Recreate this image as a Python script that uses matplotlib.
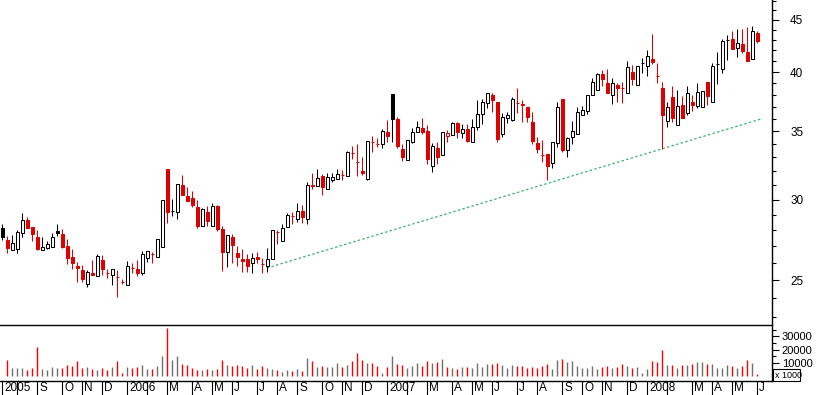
import numpy as np
import pandas as pd
import matplotlib
matplotlib.use('Agg')
import matplotlib.pyplot as plt
from matplotlib.ticker import FixedLocator, NullFormatter, FixedFormatter
from matplotlib.patches import Rectangle

plt.rcParams['font.family'] = ['Liberation Sans', 'DejaVu Sans']

# weekly bars, first one = week ending 2005-07-15
first_week = '2005-07-15'

opens = [28.14, 27.38, 26.77, 26.83, 27.82, 28.65, 28.20, 27.56, 26.77, 26.89,
         26.95, 27.95, 27.75, 27.01, 26.35, 25.82, 25.59, 24.79, 25.42, 25.24,
         26.17, 25.44, 25.30, 25.21, 24.92, 24.73, 25.72, 25.65, 25.42, 26.29,
         26.55, 26.35, 26.95, 32.14, 29.25, 29.17, 30.99, 30.24, 30.10, 29.50,
         28.27, 29.17, 28.27, 29.56, 28.07, 26.65, 27.56, 26.59, 26.23, 26.23,
         26.00, 26.35, 25.96, 25.82, 26.23, 27.90, 27.32, 28.20, 28.93, 28.71,
         29.23, 28.71, 31.00, 30.92, 31.63, 30.72, 31.35, 31.42, 31.73, 31.63,
         33.34, 32.67, 32.00, 31.42, 34.18, 34.03, 34.01, 34.94, 38.07, 35.98,
         33.63, 32.80, 34.16, 34.94, 35.26, 35.02, 32.36, 33.70, 33.17, 34.63,
         34.71, 35.66, 34.86, 35.18, 34.16, 35.34, 36.39, 37.31, 37.99, 37.39,
         34.79, 36.06, 35.90, 37.33, 37.22, 36.97, 35.74, 34.08, 33.19, 33.25,
         32.58, 34.08, 37.65, 33.55, 34.55, 34.79, 36.31, 36.64, 37.99, 38.42,
         39.83, 39.03, 37.99, 38.86, 38.62, 38.16, 40.01, 38.86, 40.85, 40.56,
         41.20, 39.68, 38.60, 35.82, 37.82, 35.50, 37.14, 36.47, 37.39, 37.06,
         36.97, 39.12, 37.39, 40.76, 40.28, 43.03, 43.11, 42.24, 42.62, 41.86,
         41.20, 43.70]
highs = [28.39, 27.63, 27.69, 28.01, 29.10, 28.84, 28.22, 28.01, 27.56, 27.32,
         27.82, 28.39, 28.07, 27.44, 26.83, 26.06, 25.88, 25.59, 26.17, 26.53,
         26.47, 25.65, 25.67, 25.59, 25.07, 26.11, 26.00, 26.17, 26.71, 26.73,
         26.65, 27.46, 30.00, 32.16, 30.03, 31.08, 31.71, 30.86, 30.58, 29.97,
         29.43, 29.56, 29.77, 29.63, 28.27, 27.71, 27.75, 27.01, 26.83, 26.53,
         26.59, 26.65, 26.29, 26.89, 28.03, 28.01, 28.39, 29.10, 29.17, 29.77,
         29.63, 31.20, 31.85, 32.14, 31.78, 31.85, 31.85, 32.14, 32.07, 33.47,
         33.86, 34.01, 33.02, 34.26, 34.63, 34.47, 35.18, 35.90, 38.09, 36.14,
         34.01, 34.34, 35.26, 35.82, 36.06, 35.50, 34.08, 34.16, 34.96, 35.10,
         35.74, 35.74, 35.58, 35.58, 35.98, 37.56, 37.65, 38.18, 38.16, 37.41,
         36.47, 36.56, 37.82, 38.60, 37.56, 36.99, 36.56, 34.55, 34.32, 33.27,
         34.18, 37.39, 37.67, 34.55, 35.82, 36.97, 37.06, 38.01, 39.48, 39.92,
         40.19, 40.28, 39.48, 39.03, 39.12, 41.01, 40.65, 40.58, 41.30, 42.05,
         43.60, 40.83, 39.12, 37.39, 38.77, 38.42, 37.90, 38.77, 37.99, 39.03,
         38.35, 39.14, 40.83, 41.86, 43.11, 43.50, 43.89, 44.09, 44.09, 44.29,
         44.39, 43.89]
lows = [27.38, 26.59, 26.75, 26.59, 27.56, 28.12, 27.32, 26.77, 26.75, 26.83,
        26.93, 27.63, 26.89, 25.94, 25.65, 24.90, 24.90, 24.62, 25.28, 25.22,
        25.30, 25.13, 24.73, 24.05, 24.79, 24.71, 25.42, 25.24, 25.30, 26.06,
        26.00, 26.33, 26.93, 28.46, 28.91, 28.71, 30.29, 29.88, 29.50, 28.14,
        28.25, 28.27, 28.25, 27.95, 25.53, 25.76, 26.00, 25.82, 25.48, 25.48,
        25.42, 26.00, 25.42, 25.48, 26.21, 27.14, 27.30, 28.18, 28.39, 28.52,
        28.46, 28.39, 30.72, 30.90, 30.31, 30.70, 31.20, 31.40, 31.35, 31.61,
        32.87, 31.63, 31.71, 31.35, 33.40, 33.78, 33.70, 34.16, 34.16, 33.70,
        32.73, 32.78, 34.08, 34.92, 34.79, 32.51, 31.92, 32.51, 33.15, 34.16,
        34.69, 34.47, 34.47, 34.16, 34.14, 35.10, 35.58, 36.89, 36.56, 34.16,
        34.55, 35.66, 35.82, 36.47, 35.74, 35.74, 34.01, 33.32, 32.65, 31.35,
        32.21, 33.78, 33.40, 33.02, 34.01, 34.77, 36.29, 36.39, 37.97, 38.40,
        38.77, 38.14, 37.22, 37.39, 37.31, 38.14, 38.86, 38.84, 39.92, 39.66,
        40.74, 39.03, 33.63, 35.34, 35.74, 35.48, 36.04, 36.31, 36.64, 36.89,
        36.95, 37.14, 37.37, 38.94, 39.92, 41.11, 42.12, 41.39, 41.77, 40.99,
        41.18, 42.72]
closes = [27.56, 26.89, 27.20, 27.88, 28.65, 28.14, 27.75, 26.83, 26.95, 27.14,
          27.56, 27.82, 26.95, 26.29, 26.00, 25.72, 25.07, 25.48, 25.30, 26.41,
          25.65, 25.42, 25.65, 25.19, 24.90, 25.82, 25.70, 25.42, 26.53, 26.71,
          26.53, 27.44, 29.97, 29.17, 29.23, 31.06, 30.31, 29.90, 29.63, 28.27,
          29.37, 28.59, 29.56, 28.07, 26.65, 27.69, 27.07, 26.35, 26.11, 25.82,
          26.29, 26.23, 25.94, 26.23, 28.01, 27.88, 28.14, 28.97, 28.91, 29.23,
          28.84, 30.99, 30.96, 31.49, 30.86, 31.56, 31.60, 31.78, 31.71, 33.40,
          33.32, 32.65, 31.85, 34.24, 34.16, 34.01, 35.02, 34.63, 35.98, 33.86,
          33.02, 34.32, 34.94, 35.34, 34.94, 32.87, 33.86, 33.02, 34.94, 34.86,
          35.66, 34.94, 35.18, 34.24, 35.34, 36.39, 37.39, 38.16, 37.56, 34.39,
          36.14, 36.31, 37.65, 37.31, 37.14, 36.14, 34.24, 33.63, 33.17, 32.36,
          34.16, 36.97, 33.55, 34.47, 35.02, 36.56, 36.72, 37.99, 39.12, 39.83,
          39.39, 38.16, 39.03, 38.60, 38.58, 40.46, 39.39, 40.56, 40.83, 41.49,
          40.92, 39.66, 36.31, 36.97, 36.06, 37.06, 36.06, 38.16, 37.14, 38.25,
          38.33, 37.90, 40.56, 40.74, 42.91, 43.01, 42.14, 42.72, 41.96, 41.01,
          43.89, 42.91]
# volume, in units of 1000 (axis is "x 1000")
volume = [0, 12500, 6500, 6500, 6500, 5000, 6500, 22000, 5500, 5000,
          7000, 6500, 6000, 8500, 8000, 11700, 6500, 7000, 5700, 5000,
          6500, 5000, 7000, 11700, 2700, 7000, 6500, 7000, 8700, 5700,
          5700, 8000, 15500, 36500, 12500, 15500, 9500, 8700, 6500, 5000,
          5000, 5700, 5000, 5700, 12500, 8700, 8000, 8700, 8000, 6500,
          8700, 5700, 8000, 6500, 5700, 5000, 3000, 5000, 4200, 5700,
          4200, 14000, 11700, 7200, 8000, 7200, 7200, 10200, 7200, 8700,
          11700, 17700, 12500, 10200, 10200, 8000, 2700, 7200, 15500, 9500,
          8700, 6500, 8000, 10200, 8000, 11700, 10200, 11000, 13200, 7200,
          6500, 5700, 7200, 7200, 6500, 10200, 7200, 9500, 9500, 10200,
          8700, 6500, 8700, 8000, 8000, 6500, 7200, 6500, 8000, 9500,
          5700, 12500, 13200, 11000, 11700, 8000, 6500, 6500, 8000, 5700,
          7200, 8000, 6500, 7200, 9500, 8000, 6500, 7200, 2700, 5700,
          11700, 11000, 20000, 8700, 8700, 6500, 8700, 8700, 9500, 11000,
          11000, 9500, 9500, 6500, 6500, 8700, 8000, 6500, 8000, 12500,
          10200, 1500]

# support trendline (bar index, price)
trend_x = [52.9, 151.9]
trend_y = [25.7, 36.0]

RED = '#dd0000'
VOL_RED = '#ff0000'
VOL_GRAY = '#707070'

o = np.array(opens); h = np.array(highs); l = np.array(lows); c = np.array(closes)
n = len(c)
x = np.arange(n)
prev = np.concatenate([[c[0]], c[:-1]])
down = c < prev
col = np.where(down, RED, 'black')
face = np.where(c < o, col, 'white')

fig = plt.figure(figsize=(8.17, 3.95), dpi=100)
fig.set_facecolor('white')
W, H = 817, 395
ax1 = fig.add_axes([0, (H - 324) / H, 772 / W, 324 / H])
ax2 = fig.add_axes([0, (H - 381) / H, 772 / W, 56 / H])

# price panel
ax1.vlines(x, l, h, colors=col, linewidth=0.75, zorder=2)
bottom = np.minimum(o, c)
height = np.maximum(np.abs(c - o), 0.015)
ax1.bar(x, height, width=0.7, bottom=bottom, color=face, edgecolor=col,
        linewidth=0.75, zorder=3)
ax1.plot(trend_x, trend_y, color='#3cb371', linewidth=0.9, dashes=(2.0, 1.8), zorder=1)

ax1.set_yscale('log')
ax1.set_ylim(22.65, 47.07)
ax1.set_xlim(-0.46, 153.94)
ax1.yaxis.set_major_locator(FixedLocator([25, 30, 35, 40, 45]))
ax1.yaxis.set_major_formatter(FixedFormatter(['25', '30', '35', '40', '45']))
ax1.yaxis.set_minor_locator(FixedLocator([v for v in range(23, 48) if v % 5]))
ax1.yaxis.set_minor_formatter(NullFormatter())
ax1.yaxis.tick_right()
ax1.tick_params(axis='y', which='major', length=5, width=0.8, pad=8, labelsize=8.5)
ax1.tick_params(axis='y', which='minor', length=3, width=0.8)
ax1.set_xticks([])
for s in ['top', 'left', 'bottom']:
    ax1.spines[s].set_visible(False)
ax1.spines['right'].set_linewidth(1.0)

# volume panel
vcol = np.where(down, VOL_RED, VOL_GRAY)
ax2.vlines(x, 0, volume, colors=vcol, linewidth=1.0)
ax2.set_xlim(-0.46, 153.94)
ax2.set_ylim(-3400, 38600)
ax2.yaxis.tick_right()
ax2.yaxis.set_major_locator(FixedLocator([10000, 20000, 30000]))
ax2.yaxis.set_major_formatter(FixedFormatter(['10000', '20000', '30000']))
ax2.yaxis.set_minor_locator(FixedLocator([5000, 15000, 25000, 35000]))
ax2.tick_params(axis='y', which='major', length=5, width=0.8, pad=2, labelsize=8)
ax2.tick_params(axis='y', which='minor', length=3, width=0.8)
ax2.spines['left'].set_visible(False)
for s in ['top', 'right', 'bottom']:
    ax2.spines[s].set_linewidth(1.0)

# "x 1000" unit box under the volume scale
fig.patches.append(Rectangle((773 / W, (H - 381) / H), 27 / W, 12 / H,
                             transform=fig.transFigure, facecolor='white',
                             edgecolor='black', linewidth=0.8))
fig.text(775 / W, (H - 375) / H, 'x 1000', fontsize=6.5, ha='left', va='center')

# month ticks along the bottom
dates = pd.date_range(first_week, periods=n, freq='W-FRI')
tick_idx = [0] + [i for i in range(1, n) if dates[i].month != dates[i - 1].month]
letters = 'JFMAMJJASOND'
ax2.set_xticks(tick_idx)
ax2.set_xticklabels([])
ax2.tick_params(axis='x', direction='out', length=10, width=0.8)
last_year_idx = -100
for i in tick_idx:
    if i == 0 or dates[i].month == 1:
        lab = str(dates[i].year)
        last_year_idx = i
    elif i - last_year_idx < 5:
        continue
    else:
        lab = letters[dates[i].month - 1]
    ax2.text(i + 0.35, -0.12, lab, transform=ax2.get_xaxis_transform(),
             fontsize=8.5, ha='left', va='center')

fig.savefig('out.png', dpi=100, facecolor='white')
